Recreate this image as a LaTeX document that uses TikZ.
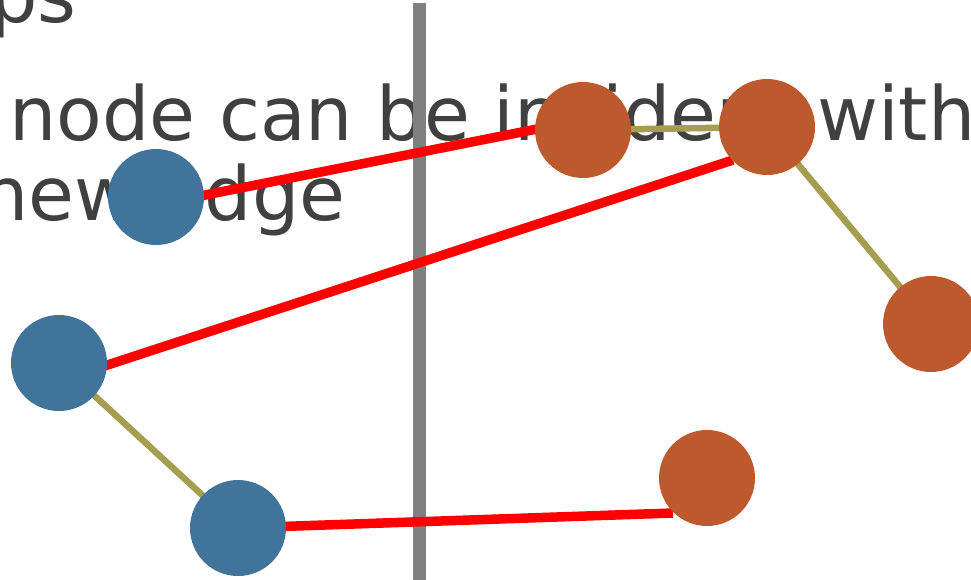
\documentclass[tikz,border=0pt]{standalone}
\usepackage{fontspec}
\setmainfont{DejaVu Sans}
\definecolor{txtgray}{HTML}{404040}
\definecolor{divgray}{HTML}{808080}
\definecolor{nblue}{HTML}{41749B}
\definecolor{norange}{HTML}{BD5A2D}
\definecolor{olive}{HTML}{A59D4F}
\definecolor{nred}{HTML}{FF0000}
\tikzset{
  lbl/.style={anchor=base west, inner sep=0pt, text=txtgray, font=\fontsize{74.6}{88}\selectfont},
  bluenode/.style={circle, fill=nblue, minimum size=96pt, inner sep=0pt},
  orangenode/.style={circle, fill=norange, minimum size=96pt, inner sep=0pt},
  oldedge/.style={draw=olive, line width=6.5pt},
  newedge/.style={draw=nred, line width=9.5pt},
  divider/.style={draw=divgray, line width=13pt}
}
\begin{document}
\begin{tikzpicture}[x=1pt,y=-1pt]
\useasboundingbox (0,0) rectangle (971,579);
\clip (0,0) rectangle (971,579);
% texts
\node[lbl] (t0) at (-10,22) {ps};
\node[lbl] (t1) at (9,140) {node can be incident with};
\node[lbl] (t2) at (-19,220) {new edge};
% divider
\coordinate (dtop) at (419,3);
\coordinate (dbot) at (419,590);
\draw[divider] (dtop) -- (dbot);
% node positions
\coordinate (pb1) at (156,197);
\coordinate (pb2) at (59,363);
\coordinate (pb3) at (238,528);
\coordinate (po1) at (583,130);
\coordinate (po2) at (767,127);
\coordinate (po3) at (931,324);
\coordinate (po4) at (707,478);
% new edges (red)
\coordinate (r1s) at (150,206);
\coordinate (r1e) at (537,129);
\coordinate (r2s) at (80,374);
\coordinate (r2e) at (733,160);
\coordinate (r3e) at (673,513);
\draw[newedge] (r1s) -- (r1e);
\draw[newedge] (r2s) -- (r2e);
\draw[newedge] (pb3) -- (r3e);
% old edges (olive)
\draw[oldedge] (po1) -- (po2);
\draw[oldedge] (po2) -- (po3);
\draw[oldedge] (pb2) -- (pb3);
% nodes
\node[bluenode] (b1) at (pb1) {};
\node[bluenode] (b2) at (pb2) {};
\node[bluenode] (b3) at (pb3) {};
\node[orangenode] (o1) at (po1) {};
\node[orangenode] (o2) at (po2) {};
\node[orangenode] (o3) at (po3) {};
\node[orangenode] (o4) at (po4) {};
\end{tikzpicture}
\end{document}
